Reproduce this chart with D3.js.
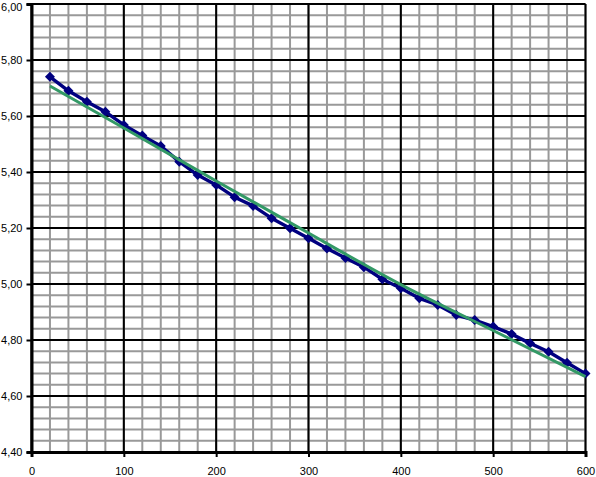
<!DOCTYPE html>
<html><head><meta charset="utf-8">
<script src="https://cdn.jsdelivr.net/npm/d3@7"></script>
<style>
body{margin:0;background:#fff}
svg{display:block}
text{font-family:"Liberation Sans",Arial,Helvetica,sans-serif;font-size:11px;fill:#000}
</style>
</head><body>
<svg id="chart" width="596" height="477"></svg>
<script>
// ---- data ----
const xValues = [20,40,60,80,100,120,140,160,180,200,220,240,260,280,300,320,340,360,380,400,420,440,460,480,500,520,540,560,580,600];
const seriesValues = [5.740,5.690,5.651,5.615,5.568,5.530,5.493,5.437,5.389,5.354,5.310,5.279,5.235,5.199,5.163,5.127,5.093,5.060,5.017,4.985,4.949,4.925,4.889,4.871,4.848,4.821,4.788,4.758,4.719,4.680];
const trendX = [20,100,200,300,400,500,600];
const trendValues = [5.707,5.557,5.368,5.182,4.998,4.834,4.669];
const xTickValues = [0,100,200,300,400,500,600];
const xTickLabels = ["0","100","200","300","400","500","600"];
const yTickValues = [4.4,4.6,4.8,5.0,5.2,5.4,5.6,5.8,6.0];
const yTickLabels = ["4,40","4,60","4,80","5,00","5,20","5,40","5,60","5,80","6,00"];
const xMinorStep = 20;
const yMinorStep = 0.04;

// ---- layout ----
const svg = d3.select("#chart");
const x = d3.scaleLinear().domain([0,600]).range([31.5,585.5]);
const y = d3.scaleLinear().domain([4.4,6.0]).range([452,4]);

const xMinor = d3.range(0, 600 + 1e-9, xMinorStep);
const yMinor = d3.range(0, Math.round(1.6 / yMinorStep) + 1).map(i => 4.4 + i * yMinorStep);

const grid = svg.append("g");
// minor grid
grid.selectAll("line.vx").data(xMinor).join("line")
  .attr("x1", d => x(d)).attr("x2", d => x(d))
  .attr("y1", y(4.4)).attr("y2", y(6.0))
  .attr("stroke", "#999").attr("stroke-width", 2);
grid.selectAll("line.hy").data(yMinor).join("line")
  .attr("y1", d => y(d)).attr("y2", d => y(d))
  .attr("x1", x(0)).attr("x2", x(600))
  .attr("stroke", "#999").attr("stroke-width", 2);
// major grid
grid.selectAll("line.mx").data(xTickValues).join("line")
  .attr("x1", d => x(d)).attr("x2", d => x(d))
  .attr("y1", y(4.4)).attr("y2", y(6.0))
  .attr("stroke", "#000").attr("stroke-width", 2);
grid.selectAll("line.my").data(yTickValues).join("line")
  .attr("y1", d => y(d)).attr("y2", d => y(d))
  .attr("x1", x(0)).attr("x2", x(600))
  .attr("stroke", "#000").attr("stroke-width", 2);

// axes
const xAxis = d3.axisBottom(x).tickValues(xTickValues)
  .tickFormat((d,i) => xTickLabels[i]).tickSize(5).tickPadding(10);
const yAxis = d3.axisLeft(y).tickValues(yTickValues)
  .tickFormat((d,i) => yTickLabels[i]).tickSize(5).tickPadding(4);

const gx = svg.append("g").attr("transform", `translate(0,${y(4.4)})`).call(xAxis);
const gy = svg.append("g").attr("transform", `translate(${x(0)},0)`).call(yAxis);
[gx, gy].forEach(g => {
  g.select(".domain").attr("stroke", "#000").attr("stroke-width", 3);
  g.selectAll(".tick line").attr("stroke", "#000").attr("stroke-width", 2);
  g.selectAll(".tick text").attr("font-family", null).attr("font-size", null).attr("fill", "#000");
});
// keep the top label inside the picture
gy.selectAll(".tick text").filter(d => d === 6.0).attr("dy", "0.62em");

// series line
const pts = xValues.map((d,i) => [d, seriesValues[i]]);
svg.append("path").datum(pts)
  .attr("fill", "none").attr("stroke", "#000080").attr("stroke-width", 3.4)
  .attr("stroke-linejoin", "round")
  .attr("d", d3.line().x(d => x(d[0])).y(d => y(d[1])));
svg.append("g").selectAll("path").data(pts).join("path")
  .attr("transform", d => `translate(${x(d[0])},${y(d[1])}) rotate(45)`)
  .attr("d", d3.symbol(d3.symbolSquare, 50)())
  .attr("fill", "#000080");

// trend line
const tpts = trendX.map((d,i) => [d, trendValues[i]]);
svg.append("path").datum(tpts)
  .attr("fill", "none").attr("stroke", "#339966").attr("stroke-width", 3)
  .attr("d", d3.line().curve(d3.curveNatural).x(d => x(d[0])).y(d => y(d[1])));
</script>
</body></html>
